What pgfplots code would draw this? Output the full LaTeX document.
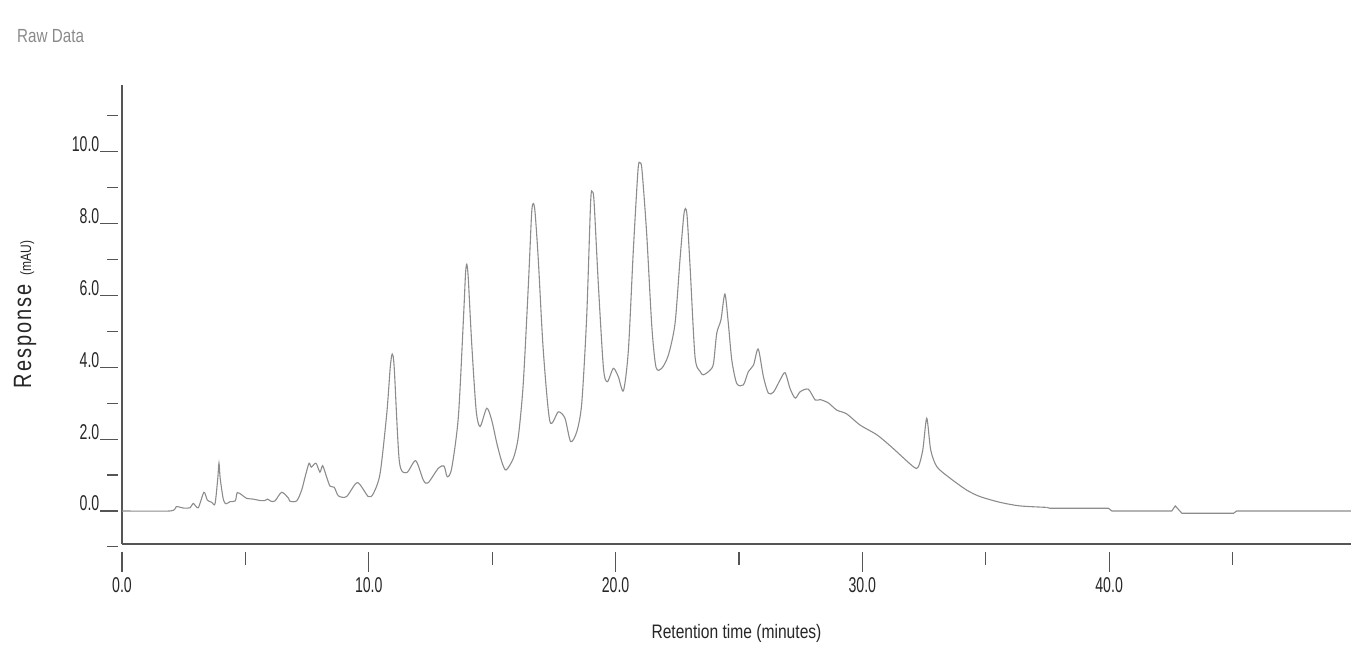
\documentclass[border=0pt]{standalone}
\usepackage{fontspec}
\setmainfont[FakeStretch=0.8]{Liberation Sans}
\newfontfamily\tickfont[FakeStretch=0.66]{Liberation Sans}
\newfontfamily\respfont[FakeStretch=0.8,LetterSpace=8]{Liberation Sans}
\usepackage{pgfplots}
\pgfplotsset{compat=1.18}
\definecolor{axcol}{HTML}{555555}
\definecolor{curvecol}{HTML}{8C8C8C}
\definecolor{rawcol}{HTML}{8A8A8A}
\pgfplotstableread{
x y
0 0
1.95 0
2.2 0.12
2.5 0.08
2.76 0.09
2.89 0.21
3.09 0.09
3.32 0.52
3.46 0.3
3.64 0.24
3.77 0.2
3.88 0.9
3.93 1.33
3.98 0.9
4.11 0.31
4.22 0.2
4.38 0.26
4.59 0.28
4.67 0.51
4.85 0.45
5.05 0.35
5.32 0.33
5.59 0.29
5.79 0.29
5.9 0.33
6.04 0.27
6.2 0.28
6.47 0.52
6.74 0.36
6.81 0.27
7.08 0.28
7.28 0.58
7.42 0.95
7.58 1.33
7.67 1.22
7.86 1.33
8.02 1.08
8.13 1.26
8.29 0.95
8.43 0.69
8.6 0.66
8.77 0.42
9.1 0.40
9.54 0.79
9.98 0.40
10.19 0.49
10.46 1.05
10.73 2.72
10.87 4.0
10.95 4.37
11.03 4.0
11.24 1.37
11.54 1.07
11.9 1.4
12.21 0.86
12.4 0.78
12.82 1.19
13.05 1.25
13.18 0.95
13.36 1.19
13.63 2.62
13.84 5.41
13.92 6.6
13.97 6.87
14.03 6.5
14.17 4.67
14.35 2.81
14.51 2.35
14.78 2.86
14.98 2.53
15.19 1.88
15.39 1.37
15.56 1.14
15.86 1.47
16.06 2.07
16.26 3.55
16.47 6.34
16.6 8.3
16.67 8.56
16.74 8.3
16.87 6.99
17.07 4.48
17.34 2.49
17.68 2.76
17.95 2.58
18.18 1.93
18.43 2.21
18.63 3.0
18.83 5.41
18.99 8.6
19.06 8.89
19.13 8.6
19.3 6.34
19.51 3.97
19.67 3.6
19.91 3.97
20.11 3.74
20.32 3.35
20.52 4.48
20.72 7.26
20.91 9.5
20.99 9.69
21.07 9.5
21.26 7.73
21.47 5.13
21.64 4.0
21.87 3.97
22.14 4.34
22.41 5.22
22.61 6.99
22.76 8.2
22.83 8.42
22.9 8.2
23.02 6.8
23.22 4.29
23.43 3.88
23.56 3.79
23.83 3.92
23.97 4.11
24.1 4.95
24.27 5.32
24.43 6.04
24.57 5.22
24.71 4.2
24.91 3.55
25.18 3.51
25.38 3.88
25.59 4.06
25.78 4.51
25.99 3.74
26.19 3.28
26.4 3.31
26.67 3.65
26.87 3.85
27.07 3.41
27.28 3.14
27.48 3.32
27.81 3.39
28.09 3.09
28.29 3.1
28.62 3.01
28.96 2.81
29.37 2.7
29.91 2.39
30.59 2.12
31.2 1.77
32.07 1.23
32.27 1.23
32.45 1.7
32.61 2.58
32.77 1.7
33.02 1.23
33.56 0.91
34.23 0.58
34.77 0.4
35.58 0.24
36.39 0.14
37.47 0.1
}\rawdata
\pgfplotstableread{
x y
37.47 0.1
37.6 0.075
39.97 0.075
40.11 0
42.54 0
42.68 0.14
42.95 -0.065
45.04 -0.065
45.17 0
49.8 0
}\rawtail
\begin{document}
\begin{tikzpicture}
\begin{axis}[
  scale only axis,
  width=1229pt, height=459pt,
  xmin=0, xmax=49.8,
  ymin=-0.92, ymax=11.86,
  clip=false,
  axis x line=bottom, axis y line=left,
  axis line style={axcol, line width=1.3pt, -},
  major tick length=0pt, minor tick length=0pt,
  xtick={0,10,20,30,40},
  xticklabels={0.0,10.0,20.0,30.0,40.0},
  ytick={0,2,4,6,8,10},
  yticklabels={0.0,2.0,4.0,6.0,8.0,10.0},
  ticklabel style={font=\tickfont\fontsize{21.4}{24}\selectfont, text=black!85},
  xticklabel style={anchor=center, yshift=-41.5pt},
  yticklabel style={anchor=base east, inner sep=0pt, xshift=-22.5pt},
  xlabel={Retention time (minutes)},
  xlabel style={at={(axis description cs:0.5,0)}, anchor=center, yshift=-89pt,
    font=\fontsize{19.5}{22}\selectfont, text=black!85},
  ylabel={{\respfont\fontsize{25}{28}\selectfont Response}\hspace{9pt}{\fontsize{15}{17}\selectfont (mAU)}},
  ylabel style={at={(axis description cs:-0.0789,0.5)}, anchor=center, text=black!85},
]
\addplot[curvecol, line width=1.1pt, smooth, tension=0.45] table[x=x,y=y]{\rawdata};
\addplot[curvecol, line width=1.1pt] table[x=x,y=y]{\rawtail};
\pgfplotsinvokeforeach{0,2,4,6,8,10}{
  \draw[axcol, line width=1.2pt] ([xshift=-4pt]axis cs:0,#1) -- ([xshift=-22pt]axis cs:0,#1);
}
\pgfplotsinvokeforeach{-1,1,3,5,7,9,11}{
  \draw[axcol, line width=1.2pt] ([xshift=-4pt]axis cs:0,#1) -- ([xshift=-15pt]axis cs:0,#1);
}
\pgfplotsinvokeforeach{0,10,20,30,40}{
  \draw[axcol, line width=1.2pt] ([yshift=-8pt]axis cs:#1,-0.92) -- ([yshift=-28pt]axis cs:#1,-0.92);
}
\pgfplotsinvokeforeach{5,15,25,35,45}{
  \draw[axcol, line width=1.2pt] ([yshift=-8pt]axis cs:#1,-0.92) -- ([yshift=-21pt]axis cs:#1,-0.92);
}
\node[anchor=base west, inner sep=0pt, text=rawcol, font=\fontsize{19}{22}\selectfont]
  at (axis description cs:-0.0854,1.0915) {Raw Data};
\end{axis}
\pgfresetboundingbox
\path[use as bounding box] (current axis.south west) ++(-122pt,-124pt) rectangle ++(1371pt,668pt);
\end{tikzpicture}
\end{document}
